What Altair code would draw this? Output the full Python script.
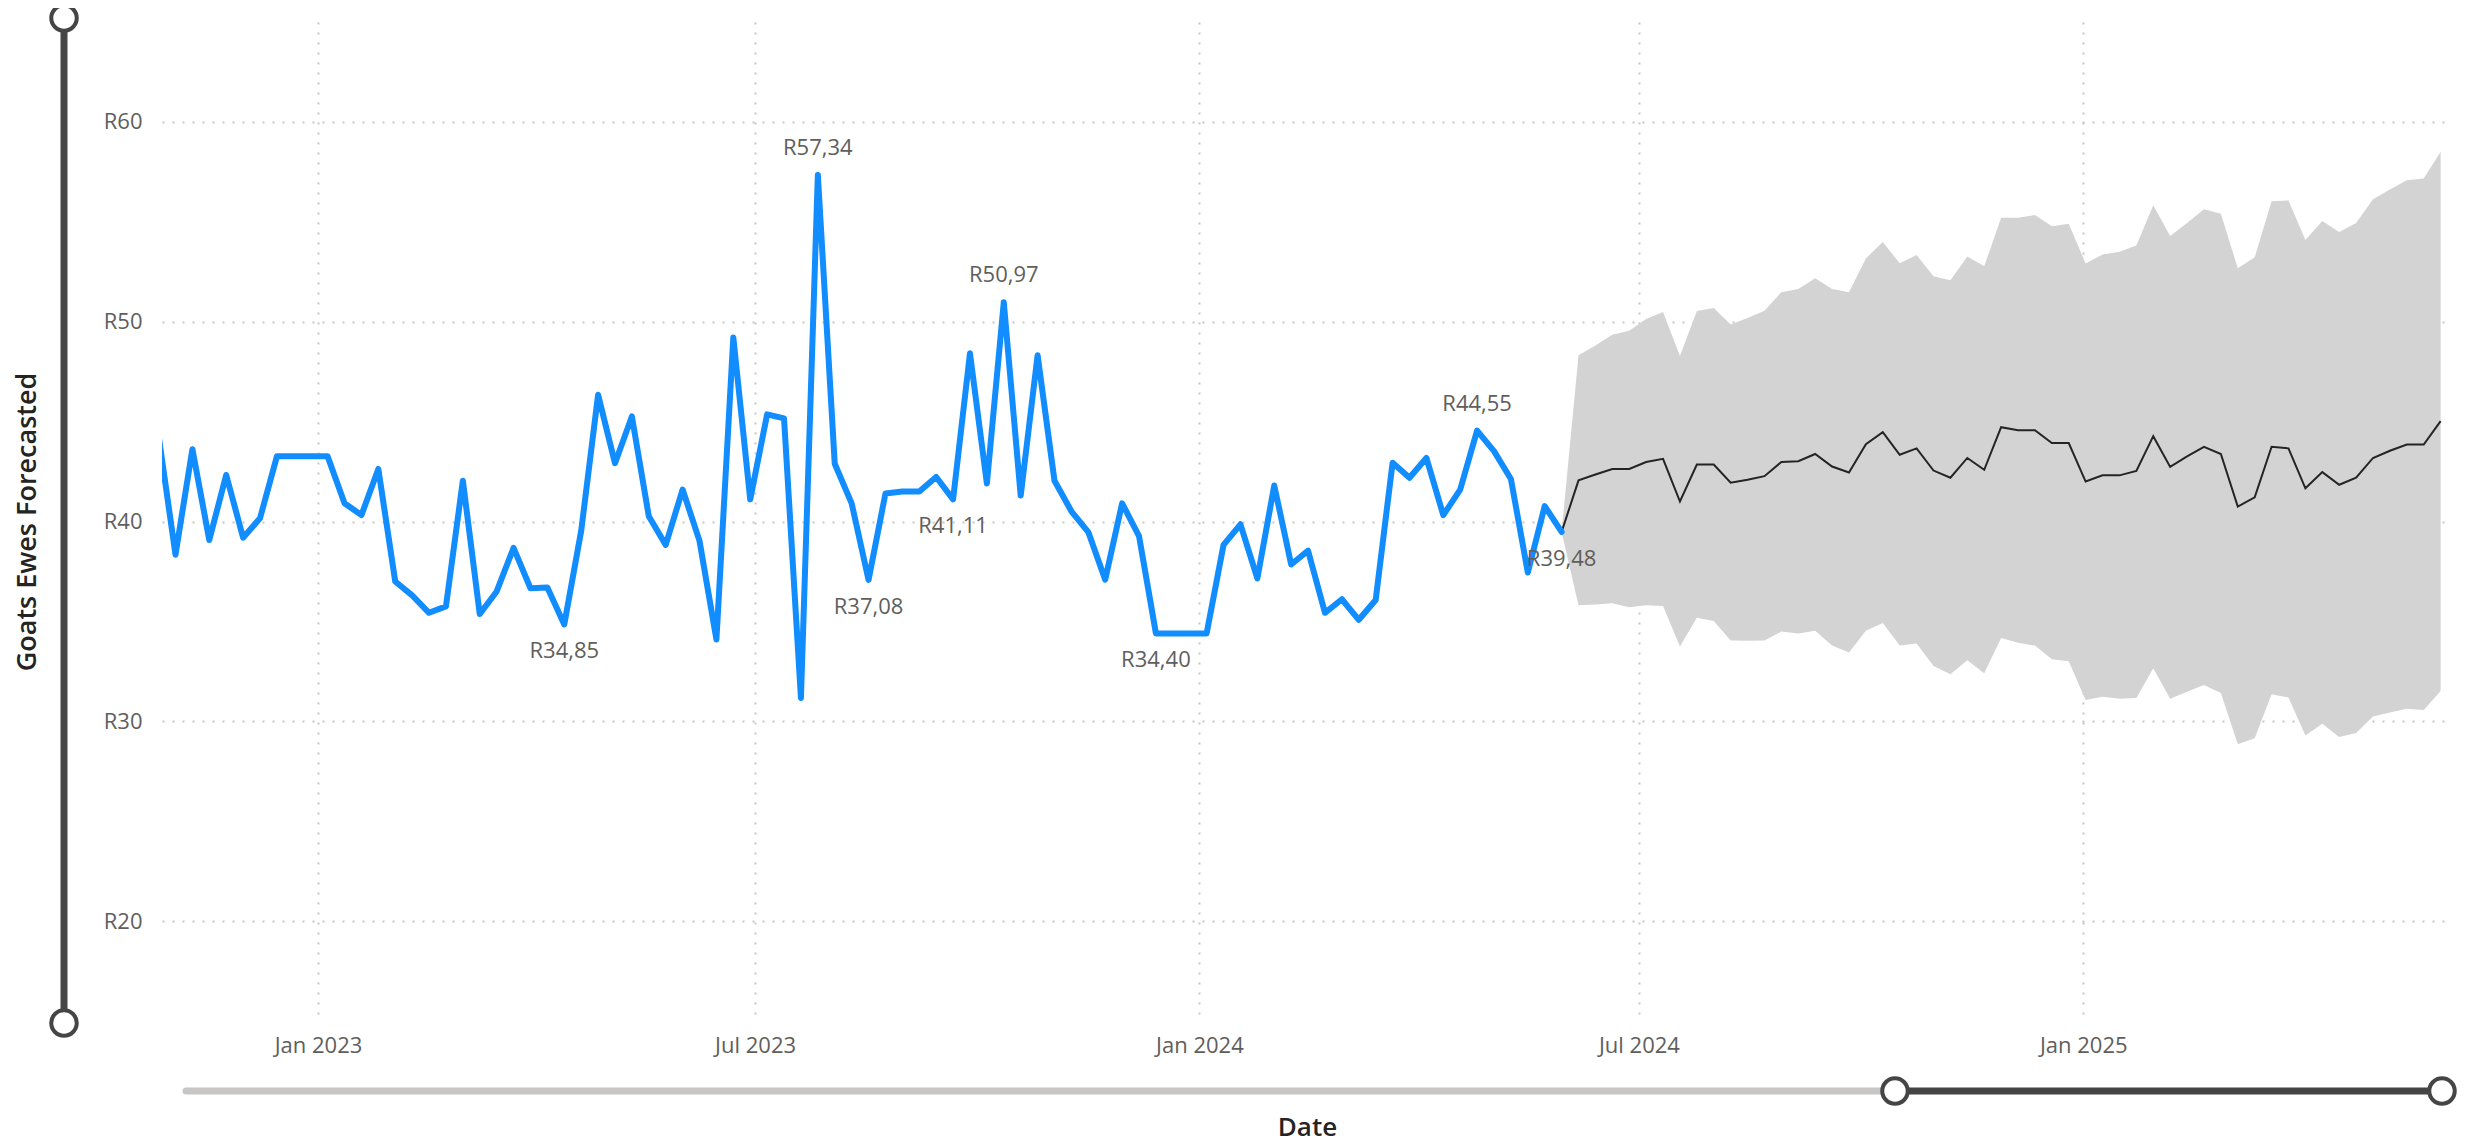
import altair as alt
import pandas as pd

# ---------------- data ----------------
first_week = "2022-10-27"  # weekly points

actual_values = [
    44.30, 38.34, 43.62, 39.07, 42.33, 39.19, 40.16, 43.26, 43.26, 43.26,
    43.26, 40.91, 40.32, 42.63, 37.00, 36.30, 35.43, 35.75, 42.04, 35.37,
    36.50, 38.68, 36.66, 36.70, 34.85, 39.53, 46.34, 42.92, 45.26, 40.26,
    38.83, 41.60, 39.03, 34.09, 49.21, 41.11, 45.36, 45.16, 31.17, 57.34,
    42.89, 40.91, 37.08, 41.40, 41.50, 41.50, 42.23, 41.11, 48.42, 41.90,
    50.97, 41.30, 48.32, 42.04, 40.51, 39.47, 37.09, 40.91, 39.27, 34.40,
    34.40, 34.40, 34.40, 38.83, 39.86, 37.15, 41.80, 37.85, 38.54, 35.43,
    36.11, 35.08, 36.07, 42.94, 42.19, 43.18, 40.32, 41.60, 44.55, 43.52,
    42.13, 37.45, 40.77, 39.48,
]

# forecast starts at the last actual week
forecast_values = [
    39.48, 42.06, 42.35, 42.63, 42.63, 42.98, 43.14, 41.00, 42.85, 42.85,
    41.94, 42.09, 42.27, 42.98, 43.02, 43.38, 42.75, 42.45, 43.87, 44.47,
    43.34, 43.66, 42.55, 42.19, 43.18, 42.59, 44.72, 44.57, 44.57, 43.93,
    43.93, 42.00, 42.31, 42.31, 42.53, 44.27, 42.73, 43.26, 43.74, 43.38,
    40.75, 41.21, 43.74, 43.66, 41.66, 42.47, 41.84, 42.19, 43.18, 43.54,
    43.85, 43.85, 45.02,
]
upper_values = [
    39.48, 48.32, 48.81, 49.35, 49.55, 50.14, 50.49, 48.28, 50.53, 50.69,
    49.86, 50.18, 50.55, 51.48, 51.64, 52.17, 51.64, 51.48, 53.16, 53.99,
    52.92, 53.34, 52.27, 52.08, 53.26, 52.77, 55.20, 55.20, 55.34, 54.78,
    54.90, 52.91, 53.36, 53.50, 53.81, 55.83, 54.29, 54.94, 55.63, 55.40,
    52.67, 53.22, 56.03, 56.07, 54.09, 55.04, 54.49, 54.94, 56.13, 56.62,
    57.08, 57.17, 58.50,
]
lower_values = [
    39.48, 35.81, 35.85, 35.91, 35.71, 35.81, 35.77, 33.75, 35.18, 35.02,
    34.05, 34.03, 34.05, 34.49, 34.39, 34.53, 33.79, 33.44, 34.53, 34.92,
    33.79, 33.89, 32.77, 32.35, 33.06, 32.41, 34.17, 33.93, 33.79, 33.10,
    33.00, 31.07, 31.23, 31.13, 31.17, 32.65, 31.13, 31.48, 31.82, 31.42,
    28.85, 29.15, 31.36, 31.19, 29.29, 29.88, 29.21, 29.41, 30.24, 30.44,
    30.63, 30.57, 31.52,
]

label_weeks = [24, 39, 42, 47, 50, 59, 78, 83]
label_sides = ["below", "above", "below", "below", "above", "below", "above", "below"]

y_ticks = [20, 30, 40, 50, 60]

# ---------------- tables ----------------
n_act = len(actual_values)
dates = pd.date_range(first_week, periods=n_act + len(forecast_values) - 1, freq="7D")
date_str = dates.strftime("%Y-%m-%d")

actual_df = pd.DataFrame({"date": date_str[:n_act], "value": actual_values})
fc_df = pd.DataFrame({
    "date": date_str[n_act - 1:],
    "forecast": forecast_values,
    "upper": upper_values,
    "lower": lower_values,
})
lab_df = pd.DataFrame({
    "date": [date_str[k] for k in label_weeks],
    "value": [actual_values[k] for k in label_weeks],
    "side": label_sides,
})
lab_df["text"] = ["R" + f"{v:.2f}".replace(".", ",") for v in lab_df["value"]]

# ---------------- encodings ----------------
FONT = "Open Sans"
x_scale = alt.Scale(
    type="utc",
    domain=[
        alt.DateTime(year=2022, month=10, date=28, hours=10, utc=True),
        alt.DateTime(year=2025, month=6, date=2, hours=17, utc=True),
    ],
)
x_axis = alt.Axis(
    values=[
        alt.DateTime(year=2023, month=1, date=1, utc=True),
        alt.DateTime(year=2023, month=7, date=1, utc=True),
        alt.DateTime(year=2024, month=1, date=1, utc=True),
        alt.DateTime(year=2024, month=7, date=1, utc=True),
        alt.DateTime(year=2025, month=1, date=1, utc=True),
    ],
    format="%b %Y",
    title="Date",
    labelPadding=14,
    titleY=93,
    titleBaseline="top",
    titleFontSize=26,
    labelFlush=False,
)
y_scale = alt.Scale(domain=[15, 65], nice=False, zero=False)
y_axis = alt.Axis(
    values=y_ticks,
    labelExpr="'R' + datum.value",
    title="Goats Ewes Forecasted",
    labelPadding=20,
    titleX=-135,
    titleY=499.5,
    titleAngle=270,
    titleAlign="center",
    titleBaseline="middle",
    titleFontSize=27,
)

def X():
    return alt.X("date:T", scale=x_scale, axis=x_axis)

band = alt.Chart(fc_df).mark_area(color="#D3D3D3", opacity=1, clip=True).encode(
    x=X(),
    y=alt.Y("lower:Q", scale=y_scale, axis=y_axis),
    y2="upper:Q",
)
fc_line = alt.Chart(fc_df).mark_line(color="#252423", strokeWidth=2, clip=True).encode(
    x=X(),
    y=alt.Y("forecast:Q", scale=y_scale, axis=y_axis),
)
act_line = alt.Chart(actual_df).mark_line(
    color="#118DFF", strokeWidth=6, strokeJoin="round", strokeCap="round", clip=True
).encode(
    x=X(),
    y=alt.Y("value:Q", scale=y_scale, axis=y_axis),
)
lab_above = alt.Chart(lab_df).transform_filter(alt.datum.side == "above").mark_text(
    dy=-27, baseline="middle", font=FONT, fontSize=22, color="#605E5C"
).encode(x=X(), y=alt.Y("value:Q", scale=y_scale, axis=y_axis), text="text:N")
lab_below = alt.Chart(lab_df).transform_filter(alt.datum.side == "below").mark_text(
    dy=27, baseline="middle", font=FONT, fontSize=22, color="#605E5C"
).encode(x=X(), y=alt.Y("value:Q", scale=y_scale, axis=y_axis), text="text:N")

# ---------------- zoom-slider chrome ----------------
one = pd.DataFrame({"_": [0]})
DARK = "#454545"
LIGHT = "#C8C6C4"
v_rule = alt.Chart(one).mark_rule(color=DARK, strokeWidth=7).encode(
    x=alt.value(-98), y=alt.value(-4), y2=alt.value(1001)
)
h_light = alt.Chart(one).mark_rule(color=LIGHT, strokeWidth=7, strokeCap="round").encode(
    x=alt.value(24), x2=alt.value(1733), y=alt.value(1069)
)
h_dark = alt.Chart(one).mark_rule(color=DARK, strokeWidth=7).encode(
    x=alt.value(1733), x2=alt.value(2280), y=alt.value(1069)
)

def knob(px, py):
    return alt.Chart(one).mark_point(
        shape="circle", filled=True, fill="white", stroke=DARK, strokeWidth=4,
        size=650, opacity=1, fillOpacity=1, strokeOpacity=1,
    ).encode(x=alt.value(px), y=alt.value(py))

chart = alt.layer(
    band, fc_line, act_line, lab_above, lab_below,
    v_rule, h_light, h_dark,
    knob(-98, -4), knob(-98, 1001), knob(1733, 1069), knob(2280, 1069),
).properties(
    width=2290,
    height=999,
    padding={"left": 154, "top": 14, "right": 10, "bottom": 124},
    autosize=alt.AutoSizeParams(type="none"),
).configure_view(stroke=None).configure_axis(
    domain=False,
    ticks=False,
    tickSize=0,
    grid=True,
    gridColor="#C8C6C4",
    gridWidth=2,
    gridDash=[2, 8],
    labelFont=FONT,
    labelFontSize=22,
    labelColor="#605E5C",
    titleFont=FONT,
    titleFontWeight=600,
    titleColor="#252423",
)

chart.save("out.html", embed_options={"renderer": "svg", "actions": False})
